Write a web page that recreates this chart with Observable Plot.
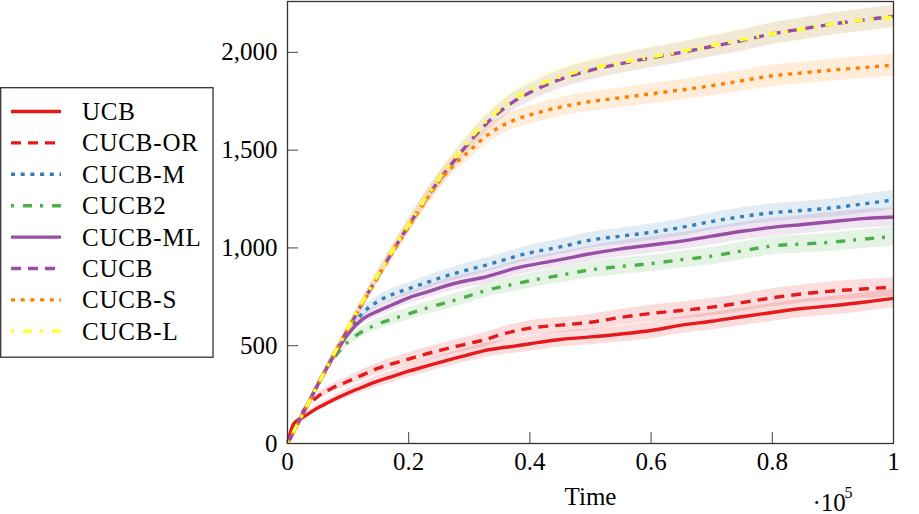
<!DOCTYPE html>
<html><head><meta charset="utf-8">
<script src="https://cdn.jsdelivr.net/npm/d3@7"></script>
<script src="https://cdn.jsdelivr.net/npm/@observablehq/plot@0.6"></script>
<style>
body{margin:0;background:#fff;}
#wrap{position:relative;width:919px;height:514px;font-family:"Liberation Serif",serif;}
#legend{position:absolute;left:0;top:87px;}
</style></head><body><div id="wrap"></div>
<script>
const times = [0, 0.01, 0.025, 0.05, 0.075, 0.1, 0.125, 0.15, 0.175, 0.2, 0.225, 0.25, 0.275, 0.3, 0.325, 0.35, 0.375, 0.4, 0.45, 0.5, 0.55, 0.6, 0.65, 0.7, 0.75, 0.8, 0.85, 0.9, 0.95, 1];
const seriesNames = ["UCB", "CUCB-OR", "CUCB-M", "CUCB2", "CUCB-ML", "CUCB", "CUCB-S", "CUCB-L"];
const colors = ["#e41a1c", "#e41a1c", "#377eb8", "#4daf4a", "#984ea3", "#984ea3", "#ff7f00", "#ffff33"];
const dashes = [null, "10,7", "4,5.7", "3,9,9,8", null, "10,7", "4,5.7", "3,9,9,8"];

const ucb     = [0, 100, 132, 182, 222, 258, 290, 320, 345, 370, 392, 414, 435, 455, 475, 488, 498, 510, 532, 545, 560, 578, 605, 625, 648, 670, 690, 705, 722, 742];
const cucbOR  = [0, 65, 160, 240, 285, 318, 352, 385, 410, 432, 455, 475, 494, 512, 530, 555, 575, 590, 605, 620, 645, 665, 680, 697, 720, 745, 765, 780, 790, 800];
const cucbM   = [0, 60, 150, 300, 440, 570, 670, 728, 765, 792, 818, 845, 869, 890, 910, 932, 955, 975, 1005, 1040, 1060, 1080, 1105, 1135, 1160, 1180, 1192, 1205, 1225, 1245];
const cucb2   = [0, 60, 150, 300, 430, 520, 575, 612, 638, 663, 688, 710, 732, 755, 780, 800, 815, 832, 860, 888, 905, 920, 940, 958, 985, 1010, 1020, 1030, 1045, 1058];
const cucbML  = [0, 60, 150, 300, 440, 560, 638, 678, 712, 745, 770, 795, 818, 835, 850, 872, 895, 912, 940, 970, 995, 1015, 1035, 1060, 1085, 1105, 1120, 1135, 1150, 1158];
const cucb    = [0, 60, 150, 300, 445, 585, 725, 860, 990, 1115, 1235, 1345, 1445, 1540, 1625, 1695, 1752, 1795, 1862, 1908, 1942, 1972, 2000, 2030, 2060, 2095, 2120, 2145, 2165, 2185];
const cucbS   = [0, 60, 150, 300, 445, 585, 722, 855, 985, 1108, 1228, 1340, 1425, 1495, 1565, 1618, 1655, 1680, 1720, 1748, 1768, 1788, 1808, 1830, 1855, 1880, 1895, 1910, 1922, 1935];
const cucbL   = [0, 60, 150, 300, 448, 590, 730, 865, 995, 1120, 1240, 1352, 1455, 1552, 1640, 1710, 1765, 1810, 1875, 1918, 1948, 1976, 2005, 2035, 2065, 2095, 2120, 2145, 2165, 2180];

const spreadLow = [0, 8, 12, 16, 20, 23, 26, 28, 30, 31, 32, 33, 34, 35, 36, 36, 37, 38, 39, 40, 41, 42, 43, 44, 45, 46, 46, 47, 48, 48];
const spreadTop = [0, 8, 12, 16, 20, 24, 27, 30, 33, 35, 37, 39, 41, 42, 43, 44, 45, 46, 48, 49, 50, 51, 52, 53, 54, 55, 55, 56, 57, 57];

const yTicks = [0, 500, 1000, 1500, 2000];
const xTicks = [0, 0.2, 0.4, 0.6, 0.8, 1];

const seriesValues = [ucb, cucbOR, cucbM, cucb2, cucbML, cucb, cucbS, cucbL];
const spreads = [spreadLow, spreadLow, spreadLow, spreadLow, spreadLow, spreadTop, spreadTop, spreadTop];

const seriesRows = seriesNames.map((name, i) => times.map((t, j) => ({
  series: name, t, v: seriesValues[i][j],
  lo: seriesValues[i][j] - spreads[i][j], hi: seriesValues[i][j] + spreads[i][j]
})));

const FONT = "'Liberation Serif', 'Times New Roman', serif";
const FS = 25;

const plot = Plot.plot({
  width: 919, height: 514,
  marginLeft: 287, marginRight: 26, marginTop: 1, marginBottom: 71,
  style: {fontFamily: FONT, fontSize: FS + "px", background: "#fff", color: "#000", overflow: "visible"},
  x: {domain: [0, 1]},
  y: {domain: [0, 2260]},
  marks: [
    ...seriesRows.map((rows, i) => Plot.areaY(rows, {x: "t", y1: "lo", y2: "hi", fill: colors[i], fillOpacity: 0.15, curve: "monotone-x"})),
    ...seriesRows.map((rows, i) => Plot.line(rows, {x: "t", y: "v", stroke: colors[i], strokeWidth: 3.4, strokeDasharray: dashes[i], strokeLinecap: "butt", curve: "monotone-x"})),
    Plot.tickY(yTicks, {y: d => d, insetRight: 595, stroke: "#444", strokeWidth: 1}),
    Plot.tickX(xTicks, {x: d => d, insetTop: 431, stroke: "#444", strokeWidth: 1}),
    Plot.axisY({ticks: yTicks, tickSize: 0, tickPadding: 10, tickFormat: d3.format(","), label: null, fontSize: FS}),
    Plot.axisX({ticks: xTicks, tickSize: 0, tickPadding: 9, tickFormat: d3.format("~g"), label: null, fontSize: FS}),
    Plot.frame({stroke: "#333", strokeWidth: 1.3}),
    Plot.text(["Time"], {text: d => d, frameAnchor: "bottom", dy: 61, lineAnchor: "bottom", fontSize: FS}),
    Plot.text(["·10"], {text: d => d, frameAnchor: "bottom-right", dx: -81, dy: 67, textAnchor: "start", lineAnchor: "bottom", fontSize: FS}),
    Plot.text(["5"], {text: d => d, frameAnchor: "bottom-right", dx: -49, dy: 54, textAnchor: "start", lineAnchor: "bottom", fontSize: 16})
  ]
});

const wrap = document.getElementById("wrap");
wrap.appendChild(plot);

// legend
const ns = "http://www.w3.org/2000/svg";
const lg = document.createElementNS(ns, "svg");
lg.setAttribute("id", "legend");
lg.setAttribute("width", 214);
lg.setAttribute("height", 271);
const box = document.createElementNS(ns, "rect");
box.setAttribute("x", 0.7); box.setAttribute("y", 0.7);
box.setAttribute("width", 212.3); box.setAttribute("height", 269.5);
box.setAttribute("fill", "#fff"); box.setAttribute("stroke", "#333"); box.setAttribute("stroke-width", 1.3);
lg.appendChild(box);
seriesNames.forEach((name, i) => {
  const cy = 24.5 + i * 31.4;
  const ln = document.createElementNS(ns, "line");
  ln.setAttribute("x1", 11); ln.setAttribute("x2", 61);
  ln.setAttribute("y1", cy); ln.setAttribute("y2", cy);
  ln.setAttribute("stroke", colors[i]); ln.setAttribute("stroke-width", 3.4);
  if (dashes[i]) ln.setAttribute("stroke-dasharray", dashes[i]);
  lg.appendChild(ln);
  const tx = document.createElementNS(ns, "text");
  tx.setAttribute("x", 82); tx.setAttribute("y", cy + 8.5);
  tx.setAttribute("font-family", FONT);
  tx.setAttribute("font-size", FS);
  tx.setAttribute("letter-spacing", "0.8");
  tx.textContent = name;
  lg.appendChild(tx);
});
wrap.appendChild(lg);
</script>
</body></html>
